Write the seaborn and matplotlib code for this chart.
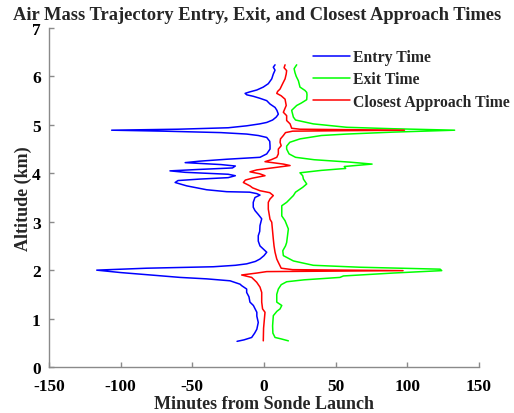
import matplotlib
matplotlib.use("Agg")
import matplotlib.pyplot as plt
from matplotlib.lines import Line2D
import pandas as pd
import seaborn as sns

# ---------------- data (altitude km, minutes from launch), bottom -> top ----------------
entry_alt = [0.53, 0.56, 0.61, 0.70, 0.78, 0.92, 1.05, 1.13, 1.27, 1.34, 1.45, 1.54, 1.61, 1.68,
             1.71, 1.78, 1.82, 1.85, 1.89, 1.95, 2.00, 2.04, 2.07, 2.10, 2.13, 2.18, 2.23, 2.30,
             2.37, 2.50, 2.60, 2.71, 2.80, 2.92, 3.06, 3.15, 3.23, 3.30, 3.40, 3.50, 3.55, 3.58,
             3.61, 3.62, 3.66, 3.74, 3.77, 3.81, 3.85, 3.88, 3.91, 3.95, 3.98, 4.02, 4.05, 4.08,
             4.11, 4.15, 4.18, 4.22, 4.25, 4.29, 4.33, 4.40, 4.50, 4.57, 4.66, 4.74, 4.78, 4.81,
             4.84, 4.87, 4.89, 4.91, 4.94, 4.98, 5.02, 5.05, 5.10, 5.16, 5.22, 5.30, 5.36, 5.43,
             5.50, 5.55, 5.59, 5.62, 5.65, 5.68, 5.72, 5.78, 5.85, 5.95, 6.05, 6.13, 6.19, 6.24]
entry_min = [-18.8, -14.0, -8.6, -6.5, -5.0, -4.0, -5.0, -5.0, -7.4, -9.8, -10.5, -12.1, -12.1, -15.6,
             -16.7, -23.7, -40.0, -58.6, -75.0, -100.0, -116.7, -81.8, -35.4, -20.0, -12.1, -6.0, -2.8, 0.0,
             1.9, -2.8, -4.0, -4.0, -3.0, -2.8, -1.6, -4.0, -6.3, -7.5, -7.5, -6.3, -2.8, -5.0,
             -10.0, -26.0, -40.0, -53.9, -57.4, -62.0, -60.0, -45.0, -25.0, -20.0, -25.0, -55.0, -65.6, -45.0,
             -22.0, -20.0, -30.0, -55.0, -45.0, -26.0, -2.8, 1.9, 4.2, 4.2, 4.0, 1.9, -4.0, -12.1,
             -30.0, -70.0, -106.3, -60.0, -25.0, -12.1, -3.0, 1.9, 6.0, 8.5, 10.0, 9.0, 7.7, 4.2,
             1.9, -3.0, -7.5, -12.0, -13.2, -10.0, -5.0, -0.5, 3.0, 5.4, 6.5, 7.7, 6.5, 7.7]

exit_alt = [0.54, 0.58, 0.61, 0.70, 0.85, 1.06, 1.15, 1.20, 1.27, 1.34, 1.50, 1.61, 1.70, 1.76,
            1.80, 1.85, 1.88, 1.94, 1.99, 2.02, 2.06, 2.10, 2.19, 2.30, 2.40, 2.50, 2.57, 2.85,
            3.02, 3.12, 3.33, 3.40, 3.54, 3.61, 3.71, 3.78, 3.88, 3.95, 4.01, 4.06, 4.10, 4.14,
            4.19, 4.23, 4.28, 4.33, 4.40, 4.50, 4.56, 4.64, 4.71, 4.78, 4.81, 4.85, 4.89, 4.92,
            4.95, 5.02, 5.10, 5.16, 5.30, 5.40, 5.45, 5.52, 5.62, 5.67, 5.71, 5.78, 5.91, 6.00,
            6.08, 6.16, 6.24]
exit_min = [17.0, 12.0, 7.7, 6.2, 6.0, 6.5, 9.0, 11.2, 12.4, 8.9, 8.9, 10.0, 12.0, 15.8,
            28.0, 53.0, 55.4, 90.0, 124.0, 122.9, 67.0, 34.4, 20.5, 13.5, 13.1, 15.0, 15.8, 17.0,
            14.7, 12.4, 12.4, 15.8, 20.5, 22.0, 27.0, 29.8, 27.5, 27.0, 25.1, 40.0, 57.0, 56.0,
            75.4, 60.0, 35.0, 22.0, 17.5, 15.8, 15.8, 18.0, 25.1, 40.0, 57.7, 90.0, 133.0, 90.0,
            57.7, 34.4, 22.0, 20.5, 19.3, 22.8, 26.0, 29.8, 30.0, 29.8, 28.6, 25.1, 24.0, 22.5,
            21.6, 21.0, 22.8]

closest_alt = [0.54, 0.80, 1.00, 1.13, 1.20, 1.34, 1.54, 1.65, 1.75, 1.85, 1.90, 1.94, 1.97, 1.99,
               2.01, 2.04, 2.10, 2.16, 2.23, 2.37, 2.50, 2.64, 2.80, 2.99, 3.05, 3.26, 3.40, 3.47,
               3.54, 3.60, 3.64, 3.70, 3.74, 3.81, 3.86, 3.90, 3.95, 3.99, 4.03, 4.07, 4.12, 4.16,
               4.19, 4.24, 4.28, 4.33, 4.40, 4.50, 4.57, 4.64, 4.71, 4.78, 4.84, 4.87, 4.89, 4.91,
               4.93, 5.02, 5.09, 5.19, 5.26, 5.40, 5.53, 5.60, 5.65, 5.69, 5.74, 5.85, 5.95, 6.05,
               6.12, 6.18, 6.24]
closest_min = [-0.5, -0.3, 0.3, 0.7, -1.0, -1.6, -1.6, -2.8, -5.1, -8.6, -15.6, -5.0, 1.9, 97.0,
               20.0, 12.0, 11.0, 10.0, 8.9, 7.7, 7.0, 6.5, 6.0, 5.4, 4.2, 3.0, 3.0, 4.2,
               6.5, 4.0, -2.8, -8.0, -9.8, -14.4, -13.0, -8.0, 0.7, -3.0, -9.8, -5.0, 8.0, 18.2,
               13.5, 0.7, 5.0, 8.9, 10.0, 10.0, 12.0, 11.2, 11.5, 13.5, 15.0, 20.0, 98.0, 25.0,
               19.3, 18.2, 15.8, 15.8, 13.5, 15.5, 14.7, 12.0, 8.9, 9.5, 11.2, 13.0, 14.7, 15.5,
               15.8, 14.0, 14.7]

series_names = ["Entry Time", "Exit Time", "Closest Approach Time"]
series_colors = ["#0000ff", "#00ff00", "#ff0000"]
x_ticks = [-150, -100, -50, 0, 50, 100, 150]
y_ticks = [0, 1, 2, 3, 4, 5, 6, 7]

# ---------------- build long table ----------------
frames = []
for name, alt, mins in zip(series_names,
                           [entry_alt, exit_alt, closest_alt],
                           [entry_min, exit_min, closest_min]):
    frames.append(pd.DataFrame({"altitude": alt, "minutes": mins, "series": name}))
df = pd.concat(frames, ignore_index=True)

sns.set_style("ticks")
plt.rcParams["font.family"] = ["Liberation Serif", "DejaVu Serif"]
plt.rcParams["font.weight"] = "bold"
plt.rcParams["axes.labelweight"] = "bold"
plt.rcParams["axes.titleweight"] = "bold"

fig = plt.figure(figsize=(5.14, 4.14), dpi=100)
ax = fig.add_axes([49 / 514, 1 - 368 / 414, 430 / 514, 339 / 414])

palette = dict(zip(series_names, series_colors))
sns.lineplot(data=df, x="minutes", y="altitude", hue="series", palette=palette,
             sort=False, estimator=None, linewidth=1.1, legend=False, ax=ax)

ax.set_xlim(-150, 150)
ax.set_ylim(0, 7)
ax.set_xticks(x_ticks)
ax.set_yticks(y_ticks)
ax.set_xticklabels([str(v) for v in x_ticks])
ax.set_yticklabels([str(v) for v in y_ticks])

for s in ["top", "right"]:
    ax.spines[s].set_visible(False)
for s in ["left", "bottom"]:
    ax.spines[s].set_color("#8a8a8a")
    ax.spines[s].set_linewidth(1.0)
ax.tick_params(direction="in", length=3.5, width=1.0, color="#8a8a8a",
               labelsize=12.5, labelcolor="black")
ax.tick_params(axis="x", pad=8)
ax.tick_params(axis="y", pad=6)

ax.set_xlabel("Minutes from Sonde Launch", fontsize=13, fontweight="bold", labelpad=1)
ax.set_ylabel("Altitude (km)", fontsize=13, fontweight="bold", labelpad=0)
fig.text(0.5, 1 - 16 / 414, "Air Mass Trajectory Entry, Exit, and Closest Approach Times",
         ha="center", va="center", fontsize=13.3, fontweight="bold")

handles = [Line2D([], [], color=c, lw=1.1) for c in series_colors]
leg = ax.legend(handles, series_names, loc="upper left",
                bbox_to_anchor=(313 / 514, 1 - 50 / 414), bbox_transform=fig.transFigure,
                frameon=False, prop={"size": 11.3, "weight": "bold"},
                handlelength=2.35, handletextpad=0.2,
                labelspacing=0.4, borderpad=0, borderaxespad=0)

fig.savefig("out.png", dpi=100)
